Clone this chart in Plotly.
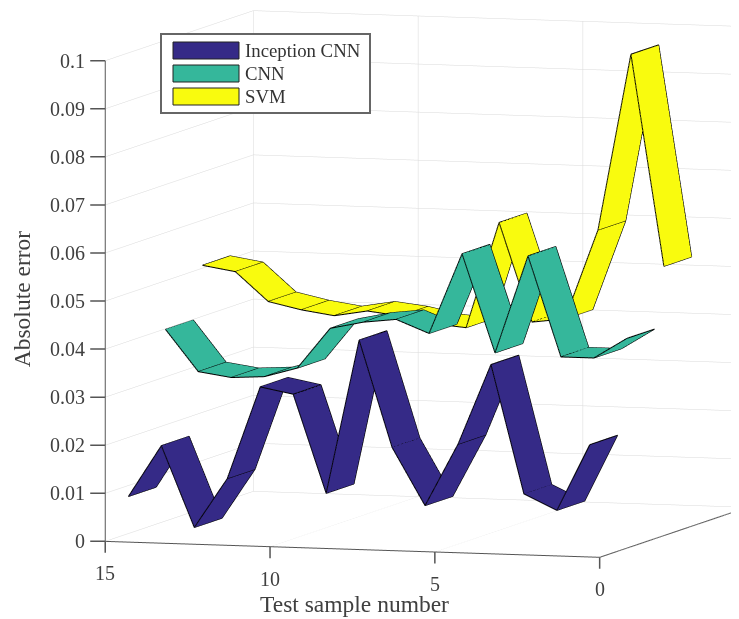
import plotly.graph_objects as go

samples = list(range(15, 0, -1))
inception = [.0077,.0185,.0017,.0121,.0314,.0301,.0097,.0418,.0197,.0078,.0208,.0376,.0109,.0077,.0216]
cnn = [.0399,.0313,.0303,.0307,.0327,.0412,.0427,.0435,.0408,.0576,.0372,.0576,.0368,.0368,.0411]
svm = [.0506,.0495,.0435,.042,.041,.0422,.0414,.040,.0394,.0615,.041,.0419,.0606,.0974,.0535]
names = ["Inception CNN", "CNN", "SVM"]
colors = ["#352A87", "#35B79B", "#F9FB0E"]
series = [inception, cnn, svm]
z_ticks = [0, .01, .02, .03, .04, .05, .06, .07, .08, .09, .1]
z_labels = ["0", "0.01", "0.02", "0.03", "0.04", "0.05", "0.06", "0.07", "0.08", "0.09", "0.1"]
y_ticks = [0, 5, 10, 15]
x_range = [0, 4]
y_range = [0, 15]
z_range = [0, .1]
WIDTH = 0.75
FONT = "Liberation Serif"
TXT = "#404040"
AXC = "#555555"
W, H = 760, 611

# the page has an 8px body margin: figure is placed at (8,8)
def px(x): return (x - 8) / W
def py(y): return 1 - (y - 8) / H

fig = go.Figure()
for idx, (vals, col) in enumerate(zip(series, colors), start=1):
    x0, x1 = idx - WIDTH / 2, idx + WIDTH / 2
    fig.add_trace(go.Surface(
        x=[[x0, x1] for _ in samples], y=[[s, s] for s in samples], z=[[v, v] for v in vals],
        surfacecolor=[[0, 0] for _ in samples], colorscale=[[0, col], [1, col]], cmin=0, cmax=1,
        showscale=False, hoverinfo="skip",
        lighting=dict(ambient=1, diffuse=0, specular=0, fresnel=0, roughness=1),
    ))
    lx, ly, lz = [], [], []
    for s, v in zip(samples, vals):
        lx += [x0, x1, None]; ly += [s, s, None]; lz += [v, v, None]
    for xe in (x0, x1):
        lx += [xe] * len(samples) + [None]; ly += samples + [None]; lz += vals + [None]
    fig.add_trace(go.Scatter3d(x=lx, y=ly, z=lz, mode="lines", line=dict(color="black", width=2),
                               hoverinfo="skip", showlegend=False, connectgaps=False))

# heavier axis edges, along the ranges
fig.add_trace(go.Scatter3d(
    x=[x_range[1], x_range[0], x_range[0], None, x_range[0], x_range[0]],
    y=[y_range[0], y_range[0], y_range[1], None, y_range[1], y_range[1]],
    z=[z_range[0], z_range[0], z_range[0], None, z_range[0], z_range[1]],
    mode="lines", line=dict(color=AXC, width=2), hoverinfo="skip", showlegend=False))

axis = dict(showbackground=False, gridcolor="#d9d9d9", gridwidth=1, zeroline=False, showline=False,
            ticks="", showticklabels=False, showspikes=False, title=dict(text=""))
tick_font = dict(family=FONT, size=20, color=TXT)
title_font = dict(family=FONT, size=23.5, color=TXT)
annots = []
for t, lab in zip(z_ticks, z_labels):
    annots.append(dict(x=0, y=15, z=t, text=lab, showarrow=True, arrowhead=0, arrowwidth=1.5, arrowcolor=AXC,
                       ax=-18, ay=0, standoff=0, startstandoff=3, xanchor="right", yanchor="middle", font=tick_font))
for s in y_ticks:
    annots.append(dict(x=0, y=s, z=0, text=str(s), showarrow=True, arrowhead=0, arrowwidth=1.5, arrowcolor=AXC,
                       ax=0, ay=32, standoff=0, startstandoff=8, xanchor="center", yanchor="middle", font=tick_font))
annots.append(dict(x=0, y=7.5, z=0, text="Test sample number", showarrow=False, xanchor="center",
                   yanchor="middle", yshift=-55, xshift=2, font=title_font))
annots.append(dict(x=0, y=15, z=.05, text="Absolute error", showarrow=False, textangle=-90, xanchor="center",
                   yanchor="middle", xshift=-83, yshift=2, font=title_font))

fig.update_layout(
    width=W, height=H, margin=dict(l=0, r=0, t=0, b=0), paper_bgcolor="white", showlegend=False,
    font=dict(family=FONT, color=TXT),
    scene=dict(
        domain=dict(x=[0, 1], y=[0.0966, 1]),
        aspectmode="manual", aspectratio=dict(x=1.817, y=1.875, z=1.751),
        camera=dict(projection=dict(type="orthographic"), eye=dict(x=-1.951, y=-.457, z=.21),
                    center=dict(x=-.0412, y=.1332, z=0), up=dict(x=0, y=0, z=1)),
        xaxis=dict(axis, range=x_range, tickvals=[], showgrid=False),
        yaxis=dict(axis, range=y_range, tickvals=y_ticks),
        zaxis=dict(axis, range=z_range, tickvals=z_ticks),
        annotations=annots,
    ),
)
# legend box
fig.add_shape(type="rect", xref="paper", yref="paper", x0=px(161), x1=px(370), y0=py(113), y1=py(34),
              fillcolor="white", line=dict(color="#666666", width=2))
for i, (n, c) in enumerate(zip(names, colors)):
    top = 42 + i * 23
    fig.add_shape(type="rect", xref="paper", yref="paper", x0=px(173), x1=px(239), y0=py(top+17), y1=py(top),
                  fillcolor=c, line=dict(color="#222222", width=1))
    fig.add_annotation(xref="paper", yref="paper", x=px(243), y=py(top+8.5), text=n, showarrow=False,
                       xanchor="left", yanchor="middle", font=dict(family=FONT, size=18.8, color="#333333"))
fig.write_html("out.html")
